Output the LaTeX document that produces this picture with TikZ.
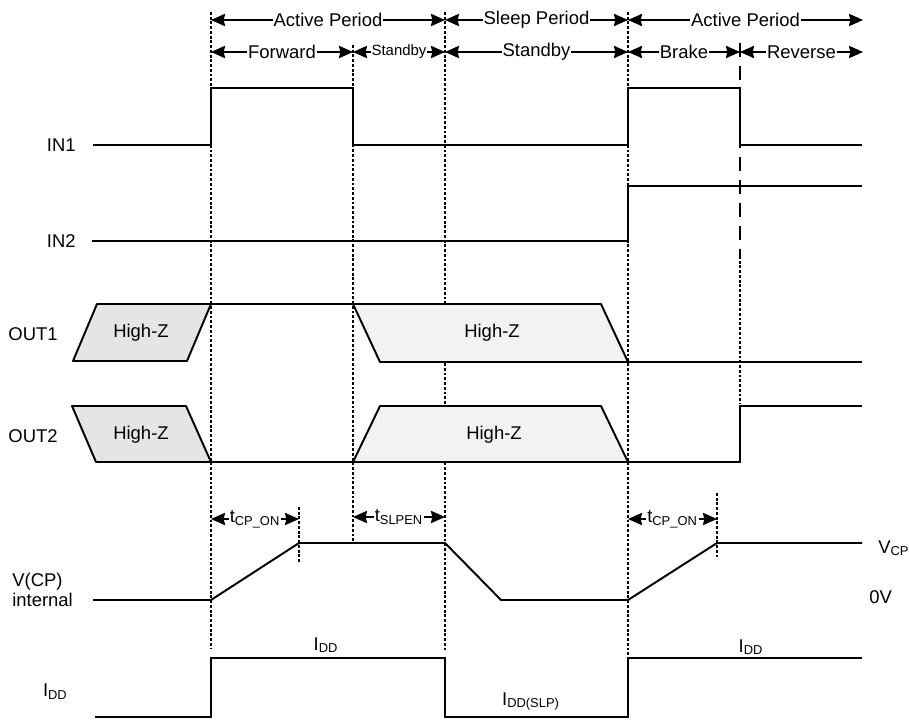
\documentclass[tikz,border=0pt]{standalone}
\usepackage{fontspec}
\setmainfont{Liberation Sans}
\usetikzlibrary{arrows.meta,positioning}
\definecolor{hizdark}{gray}{0.9}
\definecolor{hizlight}{gray}{0.95}
\tikzset{
  wave/.style={line width=1.1pt, line join=miter},
  guide/.style={line width=1pt, dash pattern=on 1.6pt off 1.1pt},
  longdash/.style={line width=1.1pt, dash pattern=on 8pt off 5pt},
  span/.style={{Stealth[length=8pt,width=7pt,inset=0.8pt]}-{Stealth[length=8pt,width=7pt,inset=0.8pt]}, line width=0.9pt},
  hiz/.style={draw, line width=1.1pt, line join=round},
  lbl/.style={font=\fontsize{10.5}{11.5}\selectfont, inner sep=0pt},
  tag/.style={lbl, fill=white, inner xsep=0.6pt, inner ysep=1pt},
  smalltag/.style={tag, font=\fontsize{8.5}{10}\selectfont}
}
\begin{document}
\begin{tikzpicture}[x=0.02cm, y=-0.02cm]
  \useasboundingbox (0,0) rectangle (909,720);

  % period marks
  \coordinate (p0) at (211,20);
  \coordinate (p1) at (445,20);
  \coordinate (p2) at (628,20);
  \coordinate (p3) at (863,20);
  \coordinate (q0) at (211,52);
  \coordinate (q1) at (353,52);
  \coordinate (q2) at (445,52);
  \coordinate (q3) at (628,52);
  \coordinate (q4) at (740,52);
  \coordinate (q5) at (863,52);

  \draw[span] (p0) -- node[tag] {Active Period} (p1);
  \draw[span] (p1) -- node[tag] {Sleep Period} (p2);
  \draw[span] (p2) -- node[tag] {Active Period} (p3);
  \draw[span] (q0) -- node[tag] {Forward} (q1);
  \draw[span] (q1) -- node[smalltag] {Standby} (q2);
  \draw[span] (q2) -- node[tag] {Standby} (q3);
  \draw[span] (q3) -- node[tag] {Brake} (q4);
  \draw[span] (q4) -- node[tag] {Reverse} (q5);

  % guide lines
  \draw[guide] (211,12) -- (211,648);
  \draw[guide] (353,45) -- (353,543);
  \draw[guide] (445,12) -- (445,650);
  \draw[guide] (628,12) -- (628,656);
  \draw[guide] (299,507) -- (299,562);
  \draw[guide] (717,493) -- (717,557);
  \draw[longdash] (740,43) -- (740,256);
  \draw[guide] (740,256) -- (740,404);

  % signal names
  \coordinate (in1) at (93,145);
  \coordinate (in2) at (92,241);
  \coordinate (out1) at (73,334);
  \coordinate (out2) at (72,436);
  \coordinate (idd) at (95,692);
  \node[lbl, left=0.34cm of in1] (in1lbl) {IN1};
  \node[lbl, left=0.32cm of in2] (in2lbl) {IN2};
  \node[lbl, left=0.30cm of out1] (out1lbl) {OUT1};
  \node[lbl, left=0.28cm of out2] (out2lbl) {OUT2};
  \node[lbl, align=left, anchor=west] (vcplbl) at (12,590) {V(CP)\\internal};
  \node[lbl, left=0.54cm of idd] (iddlbl) {I\textsubscript{DD}};

  % IN1 and IN2
  \draw[wave] (in1) -- (211,145) -- (211,88) -- (353,88) -- (353,145)
    -- (628,145) -- (628,88) -- (740,88) -- (740,145) -- (862,145);
  \draw[wave] (in2) -- (628,241) -- (628,186) -- (862,186);

  % OUT1
  \draw[hiz, fill=hizdark] (73,361) -- (97,304) -- (211,304) -- (187,361) -- cycle;
  \draw[wave] (211,304) -- (353,304);
  \draw[hiz, fill=hizlight] (353,304) -- (601,304) -- (628,362) -- (380,362) -- cycle;
  \draw[wave] (628,362) -- (862,362);
  \node[lbl] (hz1) at (141,333) {High-Z};
  \node[lbl] (hz2) at (492,333) {High-Z};

  % OUT2
  \draw[hiz, fill=hizdark] (72,406) -- (186,406) -- (211,462) -- (96,462) -- cycle;
  \draw[wave] (211,462) -- (353,462);
  \draw[hiz, fill=hizlight] (353,462) -- (380,406) -- (601,406) -- (628,462) -- cycle;
  \draw[wave] (628,462) -- (740,462) -- (740,406) -- (862,406);
  \node[lbl] (hz3) at (141,435) {High-Z};
  \node[lbl] (hz4) at (494,435) {High-Z};

  % V(CP)
  \draw[wave] (93,600) -- (211,600) -- (299,543) -- (445,543) -- (501,600)
    -- (628,600) -- (717,543) -- (862,543);
  \coordinate (c0) at (211,519);
  \coordinate (c1) at (299,519);
  \coordinate (s0) at (353,517);
  \coordinate (s1) at (445,517);
  \coordinate (c2) at (628,519);
  \coordinate (c3) at (717,519);
  \draw[span] (c0) -- node[tag] {t\textsubscript{CP\_ON}} (c1);
  \draw[span] (s0) -- node[tag] {t\textsubscript{SLPEN}} (s1);
  \draw[span] (c2) -- node[tag] {t\textsubscript{CP\_ON}} (c3);
  \node[lbl, anchor=base west] (vcp) at (878,553) {V\textsubscript{CP}};
  \node[lbl, anchor=base west] (zero) at (869,603) {0V};

  % I_DD
  \draw[wave] (95,717) -- (211,717) -- (211,658) -- (445,658) -- (445,717)
    -- (628,717) -- (628,658) -- (862,658);
  \node[lbl, anchor=base] (idd1) at (326,650) {I\textsubscript{DD}};
  \node[lbl, anchor=base] (idd2) at (531,705) {I\textsubscript{DD(SLP)}};
  \node[lbl, anchor=base] (idd3) at (751,652) {I\textsubscript{DD}};
\end{tikzpicture}
\end{document}
